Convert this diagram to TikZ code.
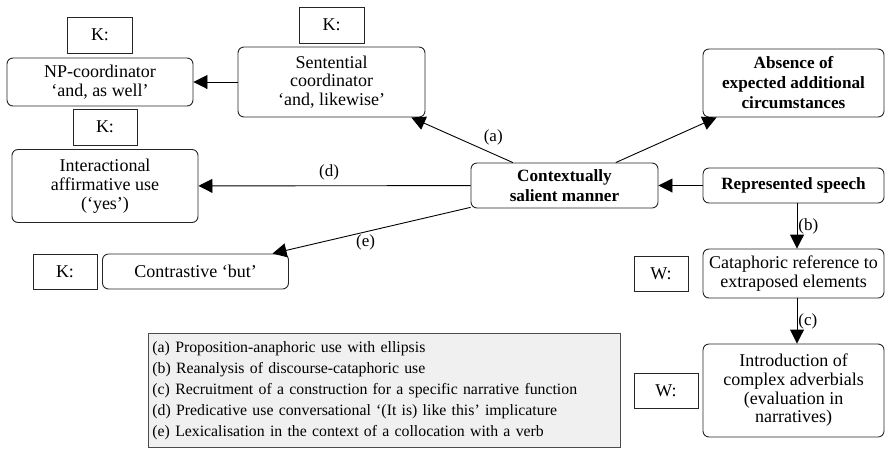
\documentclass[tikz,border=0pt]{standalone}
\usepackage{fontspec}
\setmainfont{Liberation Serif}
\usetikzlibrary{arrows.meta,positioning,calc}
\tikzset{
    sense/.style   = {rectangle, draw=black!85, line width=0.9pt, rounded corners=6pt,
                      align=center, inner sep=2pt, font=\fontsize{18}{18.7}\selectfont},
    keybox/.style  = {rectangle, draw=black!85, line width=0.9pt, minimum height=36pt,
                      inner sep=2pt, font=\fontsize{18}{18.7}\selectfont},
    link/.style    = {-{Triangle[length=14pt,width=14pt]}, line width=0.9pt, draw=black},
    tag/.style     = {font=\fontsize{17}{18}\selectfont, inner sep=1pt},
    heavy/.style   = {font=\fontsize{17.2}{20}\selectfont\bfseries}
}
\begin{document}
\begin{tikzpicture}[x=1pt, y=-1pt]
    \useasboundingbox (0,0) rectangle (885,448);
    % left column
    \node[keybox, minimum width=65pt]              (npk)   at (100,35)    {K:};
    \node[sense, minimum width=186pt, minimum height=48pt] (np)  at (100,82)  {NP-coordinator\\`and, as well'};
    \node[keybox, minimum width=64pt]              (intk)  at (105,127)   {K:};
    \node[sense, minimum width=186pt, minimum height=73pt] (int) at (105,186) {Interactional\\affirmative use\\(`yes')};
    \node[keybox, minimum width=64pt, minimum height=35pt] (conk) at (65,271.5) {K:};
    \node[sense, minimum width=186pt, minimum height=35pt] (con) at (195.5,271.5) {Contrastive `but'};
    % middle
    \node[keybox, minimum width=65pt]              (sentk) at (331.5,25)  {K:};
    \node[sense, minimum width=187pt, minimum height=70pt] (sent) at (331.5,82) {Sentential\\coordinator\\`and, likewise'};
    \node[sense, heavy, minimum width=187pt, minimum height=45pt] (ctx) at (564.5,185.5) {Contextually\\salient manner};
    % right column
    \node[sense, heavy, minimum width=181pt, minimum height=68pt] (abs) at (793.5,83) {Absence of\\expected additional\\circumstances};
    \node[sense, heavy, minimum width=181pt, minimum height=35pt] (rep) at (793.5,185.5) {Represented speech};
    \node[keybox, minimum width=54pt, minimum height=35pt] (catk) at (661,273.5) {W:};
    \node[sense, minimum width=181pt, minimum height=49pt] (cat) at (793.5,273.5) {Cataphoric reference to\\extraposed elements};
    \node[keybox, minimum width=64pt, minimum height=35pt] (introk) at (666,390.5) {W:};
    \node[sense, minimum width=181pt, minimum height=93pt] (intro) at (793.5,390.5) {Introduction of\\complex adverbials\\(evaluation in\\narratives)};
    % legend
    \node[draw=black!70, line width=0.9pt, fill=black!6, anchor=north west, text width=464pt, minimum height=114pt,
          align=left, inner sep=4pt, font=\fontsize{15.8}{21}\selectfont] (key) at (148,333) {%
        (a) Proposition-anaphoric use with ellipsis\\
        (b) Reanalysis of discourse-cataphoric use\\
        (c) Recruitment of a construction for a specific narrative function\\
        (d) Predicative use conversational `(It is) like this' implicature\\
        (e) Lexicalisation in the context of a collocation with a verb};
    % connectors
    \draw[link] (sent) -- (np);
    \draw[link] (ctx) -- node[tag, above right, pos=0.3, yshift=2pt] {(a)} (sent);
    \draw[link] (ctx) -- (abs);
    \draw[link] (ctx) -- node[tag, above, pos=0.52, yshift=4pt] {(d)} (int);
    \draw[link] (ctx) -- node[tag, below, pos=0.53, yshift=-1pt] {(e)} (con);
    \draw[link] (rep) -- (ctx);
    \draw[link] ([xshift=3.5pt]rep.south) -- node[tag, right] {(b)} ([xshift=3.5pt]cat.north);
    \draw[link] ([xshift=3.5pt]cat.south) -- node[tag, right] {(c)} ([xshift=3.5pt]intro.north);
\end{tikzpicture}
\end{document}
